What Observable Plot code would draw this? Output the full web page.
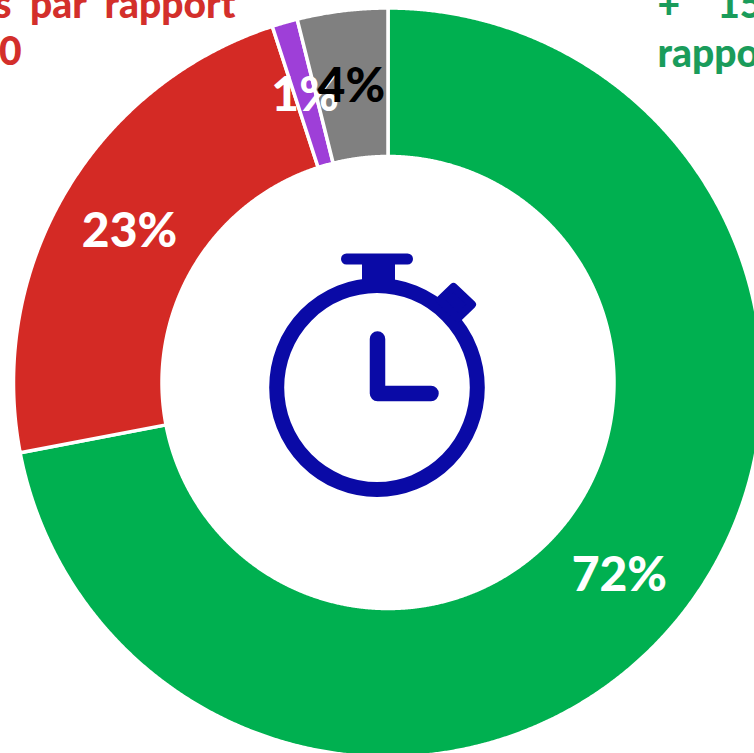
<!DOCTYPE html>
<html><head><meta charset="utf-8">
<style>html,body{margin:0;padding:0;background:#fff}svg{display:block}</style>
<script src="https://cdn.jsdelivr.net/npm/d3@7"></script>
<script src="https://cdn.jsdelivr.net/npm/@observablehq/plot@0.6"></script>
</head><body><script>
const categories = ["A", "B", "C", "D"];
const values = [72, 23, 1.1, 3.9];
const valueLabels = ["72%", "23%", "1%", "4%"];
const sliceColors = ["#00B050", "#D42A25", "#9E3FD8", "#808080"];
const labelColors = ["#fff", "#fff", "#fff", "#000"];
const redLines = ["s  par  rapport", "0"];
const greenLines = ["+    15", "rappo"];

const W = 754, H = 753, cx = 387.5, cy = 382, R0 = 226, R1 = 374.5;
const pie = d3.pie().sort(null).value(d => d)(values);
const pt = (a, r) => ({x: r * Math.sin(a), y: r * Math.cos(a)});
const rings = pie.flatMap((s, i) => {
  const n = Math.max(4, Math.ceil((s.endAngle - s.startAngle) / 0.004));
  const as = d3.range(n + 1).map(k => s.startAngle + (s.endAngle - s.startAngle) * k / n);
  return [...as.map(a => pt(a, R1)), ...as.reverse().map(a => pt(a, R0))]
    .map(p => ({...p, category: categories[i]}));
});
const labels = pie.map((s, i) => ({
  ...pt((s.startAngle + s.endAngle) / 2, (R0 + R1) / 2),
  text: valueLabels[i], color: labelColors[i]
}));
const textStyle = {fontFamily: "Lato, Carlito, sans-serif", fontWeight: 900};

// Decorative stopwatch glyph, drawn as one vector icon
function stopwatch() {
  const g = d3.create("svg:g").attr("fill", "none").attr("stroke", "#0A0AA6").attr("stroke-linecap", "round").attr("stroke-linejoin", "round");
  g.append("ellipse").attr("cx", 377).attr("cy", 387.5).attr("rx", 100.3).attr("ry", 102).attr("stroke-width", 15);
  g.append("path").attr("d", "M346.5 259H407.5").attr("stroke-width", 11);
  g.append("path").attr("d", "M378.5 259V286").attr("stroke-width", 33).attr("stroke-linecap", "butt");
  g.append("path").attr("d", "M453.5 287L472 304.5L458 318L440 300Z").attr("stroke-width", 8).attr("fill", "#0A0AA6");
  g.append("path").attr("d", "M377.5 339V393.5H431").attr("stroke-width", 15.5);
  return g.node();
}

const chart = Plot.plot({
  width: W, height: H, margin: 0,
  style: {background: "#fff"},
  x: {domain: [-cx, W - cx], range: [0, W], axis: null},
  y: {domain: [cy, cy - H], range: [0, H], axis: null},
  color: {domain: categories, range: sliceColors},
  marks: [
    Plot.line(rings, {x: "x", y: "y", z: "category", fill: "category", stroke: "#fff", strokeWidth: 3.5, curve: "linear-closed"}),
    stopwatch,
    Plot.text(labels, {x: "x", y: "y", text: "text", fill: "color", fontSize: 48, dy: 2, ...textStyle}),
    Plot.text(redLines, {x: [235 - cx, 21 - cx], y: [cy - 5, cy - 52], text: d => d, fill: "#D32F2B", fontSize: 39, textAnchor: "end", ...textStyle}),
    Plot.text(greenLines, {x: [657 - cx, 657 - cx], y: [cy - 5, cy - 54], text: d => d, fill: "#1A9C5B", fontSize: 39, textAnchor: "start", ...textStyle})
  ]
});
document.body.append(chart);
</script></body></html>
